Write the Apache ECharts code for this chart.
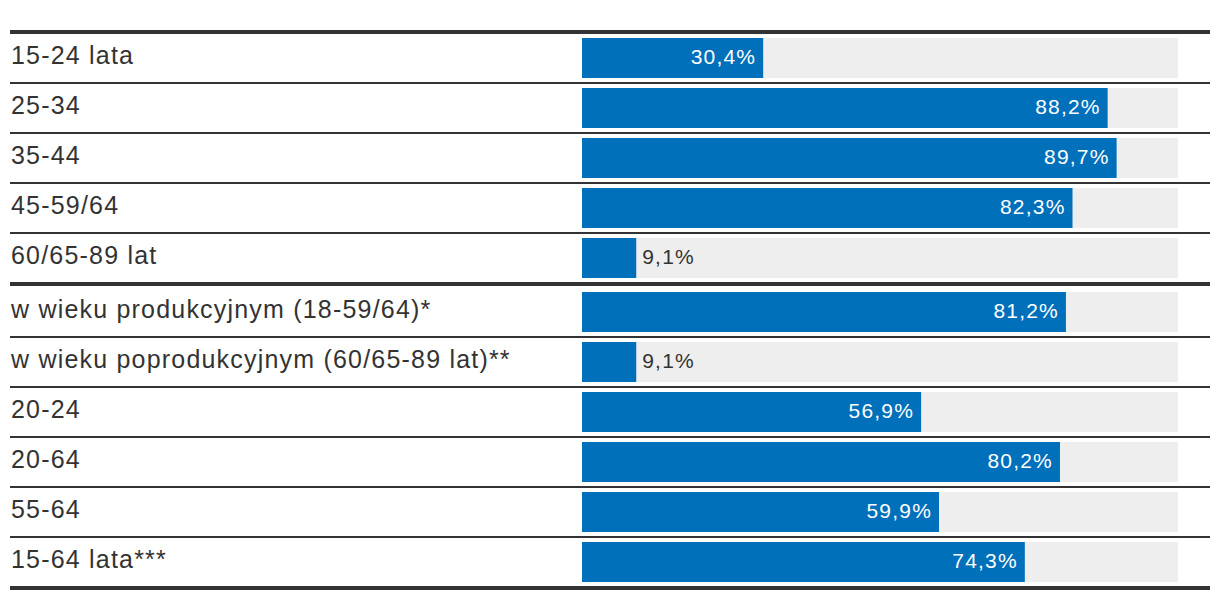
<!DOCTYPE html>
<html>
<head>
<meta charset="utf-8">
<script src="https://cdn.jsdelivr.net/npm/echarts@6/dist/echarts.min.js"></script>
<style>
html,body{margin:0;padding:0;background:#fff}
#c{width:1220px;height:600px}
#c svg text{letter-spacing:1.2px}
</style>
</head>
<body>
<div id="c"></div>
<script>
var categoriesTop = ['15-24 lata', '25-34', '35-44', '45-59/64', '60/65-89 lat'];
var valuesTop = [30.4, 88.2, 89.7, 82.3, 9.1];
var categoriesBottom = ['w wieku produkcyjnym (18-59/64)*', 'w wieku poprodukcyjnym (60/65-89 lat)**', '20-24', '20-64', '55-64', '15-64 lata***'];
var valuesBottom = [81.2, 9.1, 56.9, 80.2, 59.9, 74.3];
var maxValue = 100;

var chart = echarts.init(document.getElementById('c'), null, {renderer: 'svg'});
var FONT = 'Liberation Sans, Arial, Helvetica, sans-serif';
var BLUE = '#0070BB';

function fmt(v) { return v.toFixed(1).replace('.', ',') + '%'; }

function dataItems(vals) {
  return vals.map(function (v) {
    var small = v < 15;
    return {
      value: v,
      label: small ? {position: 'right', distance: 6, color: '#333'} : {position: 'insideRight', distance: 7, color: '#fff'}
    };
  });
}

function bgData(vals) { return vals.map(function () { return maxValue; }); }

var yCommon = {
  type: 'category', inverse: true,
  axisLine: {show: false}, axisTick: {show: false}, splitLine: {show: false},
  axisLabel: {align: 'left', verticalAlign: 'bottom', lineHeight: 7, margin: 571, fontSize: 25, color: '#333', fontFamily: FONT}
};
var xCommon = {type: 'value', min: 0, max: maxValue, show: false};

var labelCommon = {show: true, fontSize: 21, fontFamily: FONT, offset: [0, -2], formatter: function (p) { return fmt(p.value); }};

function hline(y, w) {
  return {type: 'line', shape: {x1: 10, y1: y, x2: 1210, y2: y}, style: {stroke: '#333', lineWidth: w}, silent: true};
}
var lines = [hline(32, 4), hline(284, 4), hline(588, 4)];
[83, 133, 183, 233].forEach(function (y) { lines.push(hline(y, 2)); });
[337, 387, 437, 487, 537].forEach(function (y) { lines.push(hline(y, 2)); });

chart.setOption({
  animation: false,
  grid: [
    {left: 582, width: 596, top: 33, height: 250},
    {left: 582, width: 596, top: 287, height: 300}
  ],
  xAxis: [Object.assign({gridIndex: 0}, xCommon), Object.assign({gridIndex: 1}, xCommon)],
  yAxis: [
    Object.assign({gridIndex: 0, data: categoriesTop}, yCommon),
    Object.assign({gridIndex: 1, data: categoriesBottom}, yCommon)
  ],
  series: [
    {type: 'bar', xAxisIndex: 0, yAxisIndex: 0, data: bgData(valuesTop), barWidth: 40, itemStyle: {color: '#eeeeee'}, silent: true},
    {type: 'bar', xAxisIndex: 0, yAxisIndex: 0, data: dataItems(valuesTop), barWidth: 40, barGap: '-100%', itemStyle: {color: BLUE}, label: labelCommon},
    {type: 'bar', xAxisIndex: 1, yAxisIndex: 1, data: bgData(valuesBottom), barWidth: 40, itemStyle: {color: '#eeeeee'}, silent: true},
    {type: 'bar', xAxisIndex: 1, yAxisIndex: 1, data: dataItems(valuesBottom), barWidth: 40, barGap: '-100%', itemStyle: {color: BLUE}, label: labelCommon}
  ],
  graphic: lines
});
</script>
</body>
</html>
